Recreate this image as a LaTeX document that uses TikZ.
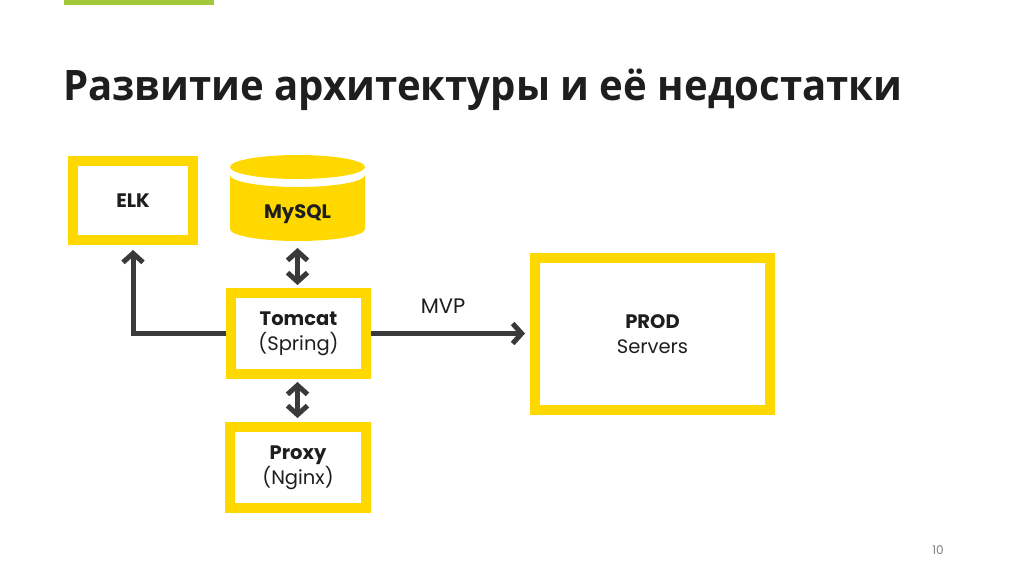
\documentclass[tikz,border=0pt]{standalone}
\usepackage{fontspec}
\setmainfont{Poppins}
\newfontfamily\titlefont{Open Sans}
\usetikzlibrary{arrows.meta}
\definecolor{ylw}{RGB}{255,216,0}
\definecolor{grn}{RGB}{163,200,58}
\definecolor{arr}{RGB}{58,58,58}
\definecolor{txt}{RGB}{30,30,30}
\begin{document}
\begin{tikzpicture}[x=1pt,y=-1pt,
  box/.style={draw=ylw,line width=10pt,fill=white,rectangle,inner sep=0pt,align=center,text=txt,font=\fontsize{19.5}{25}\selectfont},
  conn/.style={draw=arr,line width=5pt,-{Straight Barb[length=9pt,width=20pt]}},
  dconn/.style={draw=arr,line width=5pt,{Straight Barb[length=9pt,width=20pt]}-{Straight Barb[length=9pt,width=20pt]}}]
\useasboundingbox (0,0) rectangle (1024,576);
\fill[white] (0,0) rectangle (1024,576);
% green bar
\fill[grn] (64,0) rectangle (214,4.5);
% title
\node[anchor=base west,inner sep=0pt,text=txt,font=\titlefont\bfseries\fontsize{42}{50}\selectfont] (title) at (63,100) {\scalebox{0.955}[1]{Развитие архитектуры и её недостатки}};
% boxes
\node[box,minimum width=120pt,minimum height=79pt] (elk) at (133,200.5) {\bfseries ELK};
\node[box,minimum width=135pt,minimum height=81pt] (tomcat) at (298.5,333.5) {\bfseries Tomcat\\(Spring)};
\node[box,minimum width=136pt,minimum height=81pt] (proxy) at (298,467.5) {\bfseries Proxy\\(Nginx)};
\node[box,minimum width=235pt,minimum height=152pt] (prod) at (652.5,334) {\bfseries PROD\\Servers};
% MySQL cylinder
\fill[ylw] (230,175) arc[start angle=180,end angle=0,x radius=67.5,y radius=12] -- (365,229) arc[start angle=0,end angle=180,x radius=67.5,y radius=12] -- cycle;
\fill[ylw] (297.5,167) ellipse[x radius=67.5,y radius=12];
\node[text=txt,font=\fontsize{19.5}{25}\selectfont\bfseries] (mysql) at (297.5,214) {MySQL};
\coordinate (mysqlbot) at (297.5,241);
% connectors
\draw[dconn,shorten <=7pt,shorten >=3pt] (mysqlbot) -- (tomcat.north -| mysqlbot);
\draw[dconn,shorten <=3pt,shorten >=4pt] (tomcat.south -| mysqlbot) -- (proxy.north -| mysqlbot);
\draw[conn,shorten >=5pt] (tomcat.west) -| (elk.south);
\draw[conn,shorten >=5pt] (tomcat.east) -- (prod.west |- tomcat.east);
\node[text=txt,font=\fontsize{21}{24}\selectfont] (mvp) at (443,306) {MVP};
% page number
\node[text=gray,font=\fontsize{12}{14}\selectfont] (page) at (938,550) {10};
\end{tikzpicture}
\end{document}
